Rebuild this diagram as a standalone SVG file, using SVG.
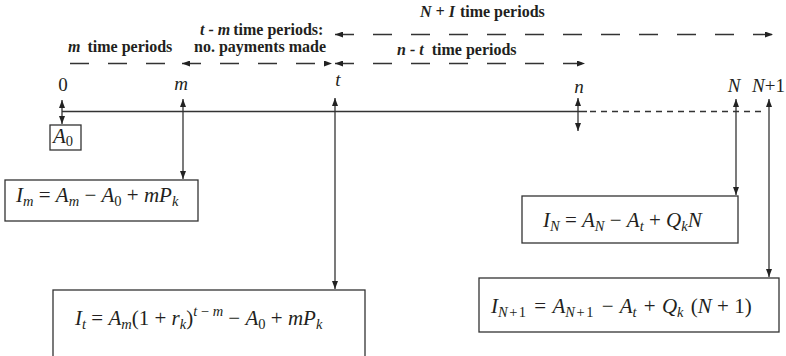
<svg xmlns="http://www.w3.org/2000/svg" width="786" height="356" viewBox="0 0 786 356">
<style>
.bg{fill:#fff}
.ln{stroke:#333;stroke-width:1.3;fill:none}
.dl{stroke:#333;stroke-width:1.4;fill:none;stroke-dasharray:19 19}
.tl{stroke:#333;stroke-width:1.3;fill:none;stroke-dasharray:6 5}
.box{fill:#fff;stroke:#333;stroke-width:1.3}
.hd{font-family:"Liberation Serif",serif;font-weight:bold;font-size:16px;fill:#231f20}
.lb{font-family:"Liberation Serif",serif;font-size:19px;fill:#231f20}
.m{font-family:"Liberation Serif",serif;font-size:21px;fill:#231f20}
.i{font-style:italic}
.s{font-size:14.5px}
</style>
<defs>
<marker id="ah" viewBox="0 0 8 6" refX="8" refY="3" markerWidth="8" markerHeight="6" markerUnits="userSpaceOnUse" orient="auto-start-reverse">
<path d="M0,0 L8,3 L0,6 Z" fill="#222"/>
</marker>
</defs>
<rect class="bg" x="0" y="0" width="786" height="356"/>

<g id="headers">
<text class="hd" x="420" y="17"><tspan class="i">N + I</tspan><tspan dx="5">time periods</tspan></text>
<text class="hd" x="200" y="35"><tspan class="i">t - m</tspan><tspan dx="3">time periods:</tspan></text>
<text class="hd" x="68" y="52"><tspan class="i">m</tspan><tspan dx="7">time periods</tspan></text>
<text class="hd" x="194" y="52">no. payments made</text>
<text class="hd" x="397" y="55"><tspan class="i">n - t</tspan><tspan dx="8">time periods</tspan></text>
</g>

<g id="ticks">
<text class="lb" x="63" y="91" text-anchor="middle">0</text>
<text class="lb i" x="181" y="90" text-anchor="middle">m</text>
<text class="lb i" x="338" y="86" text-anchor="middle">t</text>
<text class="lb i" x="579" y="93" text-anchor="middle">n</text>
<text class="lb i" x="734" y="92" text-anchor="middle">N</text>
<text class="lb" x="752" y="92"><tspan class="i">N</tspan>+1</text>
</g>

<g id="connectors">
<line class="dl" x1="70" y1="63.5" x2="168" y2="63.5"/>
<line class="dl" x1="182" y1="63.5" x2="332" y2="63.5" stroke-dasharray="23 19 20 18 20 19 30" marker-start="url(#ah)" marker-end="url(#ah)"/>
<line class="dl" x1="335" y1="63.5" x2="585" y2="63.5" stroke-dasharray="22 19 20 18" marker-start="url(#ah)" marker-end="url(#ah)"/>
<line class="dl" x1="335" y1="34.5" x2="773" y2="34.5" stroke-dasharray="22 19.5 20 18.5" marker-start="url(#ah)" marker-end="url(#ah)"/>
<line class="ln" x1="62" y1="111.5" x2="587" y2="111.5"/>
<line class="tl" x1="590" y1="111.5" x2="764" y2="111.5"/>
<line class="ln" x1="62" y1="100" x2="62" y2="124" marker-start="url(#ah)" marker-end="url(#ah)"/>
<line class="ln" x1="183" y1="99" x2="183" y2="179" marker-start="url(#ah)" marker-end="url(#ah)"/>
<line class="ln" x1="335" y1="98" x2="335" y2="289" marker-start="url(#ah)" marker-end="url(#ah)"/>
<line class="ln" x1="578" y1="98" x2="578" y2="131" marker-start="url(#ah)" marker-end="url(#ah)"/>
<line class="ln" x1="736" y1="99" x2="736" y2="195" marker-start="url(#ah)" marker-end="url(#ah)"/>
<line class="ln" x1="769" y1="99" x2="769" y2="277" marker-start="url(#ah)" marker-end="url(#ah)"/>
</g>

<g id="A0">
<rect class="box" x="50" y="125" width="31" height="25"/>
<text class="m" x="53" y="143" font-size="20"><tspan class="i">A</tspan><tspan class="s" dy="3">0</tspan></text>
</g>

<g id="Im">
<rect class="box" x="5" y="180" width="193" height="41"/>
<text class="m" x="16" y="202"><tspan class="i">I</tspan><tspan class="i s" dy="4">m</tspan><tspan dy="-4"> = </tspan><tspan class="i">A</tspan><tspan class="i s" dy="4">m</tspan><tspan dy="-4"> − </tspan><tspan class="i">A</tspan><tspan class="s" dy="4">0</tspan><tspan dy="-4"> + </tspan><tspan class="i">mP</tspan><tspan class="i s" dy="4">k</tspan></text>
</g>

<g id="It">
<rect class="box" x="53" y="290" width="312" height="80"/>
<text class="m" x="75" y="325"><tspan class="i">I</tspan><tspan class="i s" dy="4">t</tspan><tspan dy="-4"> = </tspan><tspan class="i">A</tspan><tspan class="i s" dy="4">m</tspan><tspan dy="-4">(1 + </tspan><tspan class="i">r</tspan><tspan class="i s" dy="4">k</tspan><tspan dy="-4">)</tspan><tspan class="s" dy="-9"><tspan class="i">t</tspan> − <tspan class="i">m</tspan></tspan><tspan dy="9"> − </tspan><tspan class="i">A</tspan><tspan class="s" dy="4">0</tspan><tspan dy="-4"> + </tspan><tspan class="i">mP</tspan><tspan class="i s" dy="4">k</tspan></text>
</g>

<g id="IN">
<rect class="box" x="522" y="196" width="216" height="47"/>
<text class="m" x="543" y="227"><tspan class="i">I</tspan><tspan class="i s" dy="4">N</tspan><tspan dy="-4"> = </tspan><tspan class="i">A</tspan><tspan class="i s" dy="4">N</tspan><tspan dy="-4"> − </tspan><tspan class="i">A</tspan><tspan class="i s" dy="4">t</tspan><tspan dy="-4"> + </tspan><tspan class="i">Q</tspan><tspan class="i s" dy="4">k</tspan><tspan class="i" dy="-4">N</tspan></text>
</g>

<g id="IN1">
<rect class="box" x="479" y="278" width="300" height="54"/>
<text class="m" x="491" y="313"><tspan class="i">I</tspan><tspan class="s" dy="4"><tspan class="i">N</tspan><tspan dx="1.5">+</tspan><tspan dx="1.5">1</tspan></tspan><tspan dy="-4" dx="3"> = </tspan><tspan class="i" dx="1">A</tspan><tspan class="s" dy="4"><tspan class="i">N</tspan><tspan dx="1.5">+</tspan><tspan dx="1.5">1</tspan></tspan><tspan dy="-4" dx="3"> − </tspan><tspan class="i" dx="1">A</tspan><tspan class="i s" dy="4">t</tspan><tspan dy="-4" dx="2"> + </tspan><tspan class="i" dx="1">Q</tspan><tspan class="i s" dy="4">k</tspan><tspan dy="-4" dx="2"> (</tspan><tspan class="i">N</tspan> + 1)</text>
</g>
</svg>
